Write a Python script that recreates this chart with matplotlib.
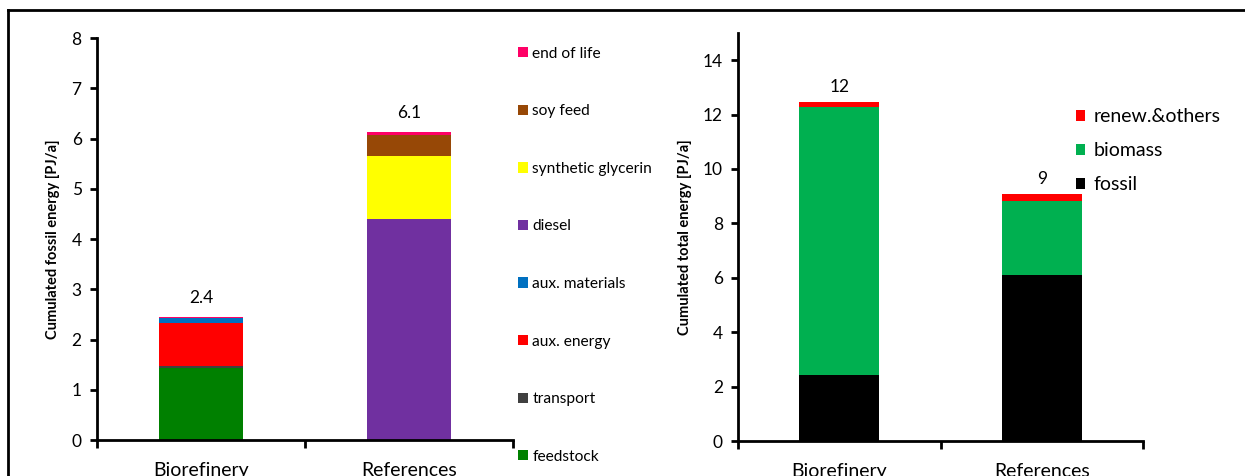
import matplotlib
matplotlib.use("Agg")
import matplotlib.pyplot as plt
import numpy as np
from matplotlib.patches import Patch
from matplotlib.lines import Line2D

plt.rcParams['font.family'] = ['Lato', 'DejaVu Sans']

categories = ['Biorefinery', 'References']

# left chart: cumulated fossil energy [PJ/a], stacked bottom -> top
fossil_parts = ['feedstock', 'transport', 'aux. energy', 'aux. materials',
                'diesel', 'synthetic glycerin', 'soy feed', 'end of life']
fossil_values = {
    'feedstock':          [1.43, 0.00],
    'transport':          [0.05, 0.00],
    'aux. energy':        [0.84, 0.00],
    'aux. materials':     [0.10, 0.00],
    'diesel':             [0.00, 4.40],
    'synthetic glycerin': [0.00, 1.25],
    'soy feed':           [0.00, 0.43],
    'end of life':        [0.02, 0.04],
}
fossil_labels = ['2.4', '6.1']

# right chart: cumulated total energy [PJ/a]
total_parts = ['fossil', 'biomass', 'renew.&others']
total_values = {
    'fossil':        [2.42, 6.10],
    'biomass':       [9.86, 2.72],
    'renew.&others': [0.18, 0.26],
}
total_labels = ['12', '9']

fossil_colors = {
    'feedstock': '#008000', 'transport': '#404040', 'aux. energy': '#ff0000',
    'aux. materials': '#0070c0', 'diesel': '#7030a0', 'synthetic glycerin': '#ffff00',
    'soy feed': '#974806', 'end of life': '#ff0066',
}
total_colors = {'fossil': '#000000', 'biomass': '#00b050', 'renew.&others': '#ff0000'}

fig = plt.figure(figsize=(12.45, 4.76), dpi=100)
ax1 = fig.add_axes([0.0779, 0.0756, 0.3341, 0.8445])
ax2 = fig.add_axes([0.5928, 0.0735, 0.3253, 0.8572])

x = np.arange(len(categories))


def style_axes(ax, ylim, yticks):
    ax.set_xlim(-0.5, 1.5)
    ax.set_ylim(*ylim)
    ax.set_yticks(yticks)
    ax.spines['top'].set_visible(False)
    ax.spines['right'].set_visible(False)
    ax.spines['left'].set_linewidth(2)
    ax.spines['bottom'].set_linewidth(2)
    ax.tick_params(axis='y', direction='out', length=5, width=2, labelsize=12.5, pad=6)
    ax.set_xticks([-0.5, 0.5, 1.5])
    ax.set_xticklabels(['', '', ''])
    ax.tick_params(axis='x', which='major', direction='out', length=6, width=2)
    ax.set_xticks(x, minor=True)
    ax.set_xticklabels(categories, minor=True)
    ax.tick_params(axis='x', which='minor', length=0, labelsize=14, pad=16)


# left stacked bars
bottom = np.zeros(len(categories))
for part in fossil_parts:
    vals = np.array(fossil_values[part])
    ax1.bar(x, vals, 0.4, bottom=bottom, color=fossil_colors[part], label=part)
    bottom += vals
for xi, top, lab in zip(x, bottom, fossil_labels):
    ax1.annotate(lab, (xi, top), xytext=(0, 8), textcoords='offset points',
                 ha='center', va='bottom', fontsize=12.5)
style_axes(ax1, (0, 8), range(0, 9))
ax1.set_ylabel('Cumulated fossil energy [PJ/a]', fontsize=10.5, fontweight='bold', labelpad=8)

h1 = [Patch(facecolor=fossil_colors[p], edgecolor='none') for p in fossil_parts[::-1]]
fig.legend(h1, fossil_parts[::-1], loc='upper left', bbox_to_anchor=(0.4095, 0.918),
           frameon=False, fontsize=11.2, handlelength=0.64, handleheight=0.64,
           handletextpad=0.3, labelspacing=2.8, borderpad=0)

# right stacked bars
bottom = np.zeros(len(categories))
for part in total_parts:
    vals = np.array(total_values[part])
    ax2.bar(x, vals, 0.395, bottom=bottom, color=total_colors[part], label=part)
    bottom += vals
for xi, top, lab in zip(x, bottom, total_labels):
    ax2.annotate(lab, (xi, top), xytext=(0, 5), textcoords='offset points',
                 ha='center', va='bottom', fontsize=12.5)
style_axes(ax2, (0, 15), range(0, 15, 2))
ax2.set_ylabel('Cumulated total energy [PJ/a]', fontsize=10.5, fontweight='bold', labelpad=8)

h2 = [Patch(facecolor=total_colors[p], edgecolor='none') for p in total_parts[::-1]]
fig.legend(h2, total_parts[::-1], loc='upper left', bbox_to_anchor=(0.8566, 0.793),
           frameon=False, fontsize=14, handlelength=0.45, handleheight=0.45,
           handletextpad=0.45, labelspacing=0.88, borderpad=0)

# outer frame (top and left edges visible)
fig.add_artist(Line2D([8 / 1245, 1.0], [1 - 10 / 476] * 2, color='black', lw=2))
fig.add_artist(Line2D([8 / 1245] * 2, [0.0, 1 - 10 / 476], color='black', lw=2))

fig.savefig('out.png', dpi=100)
